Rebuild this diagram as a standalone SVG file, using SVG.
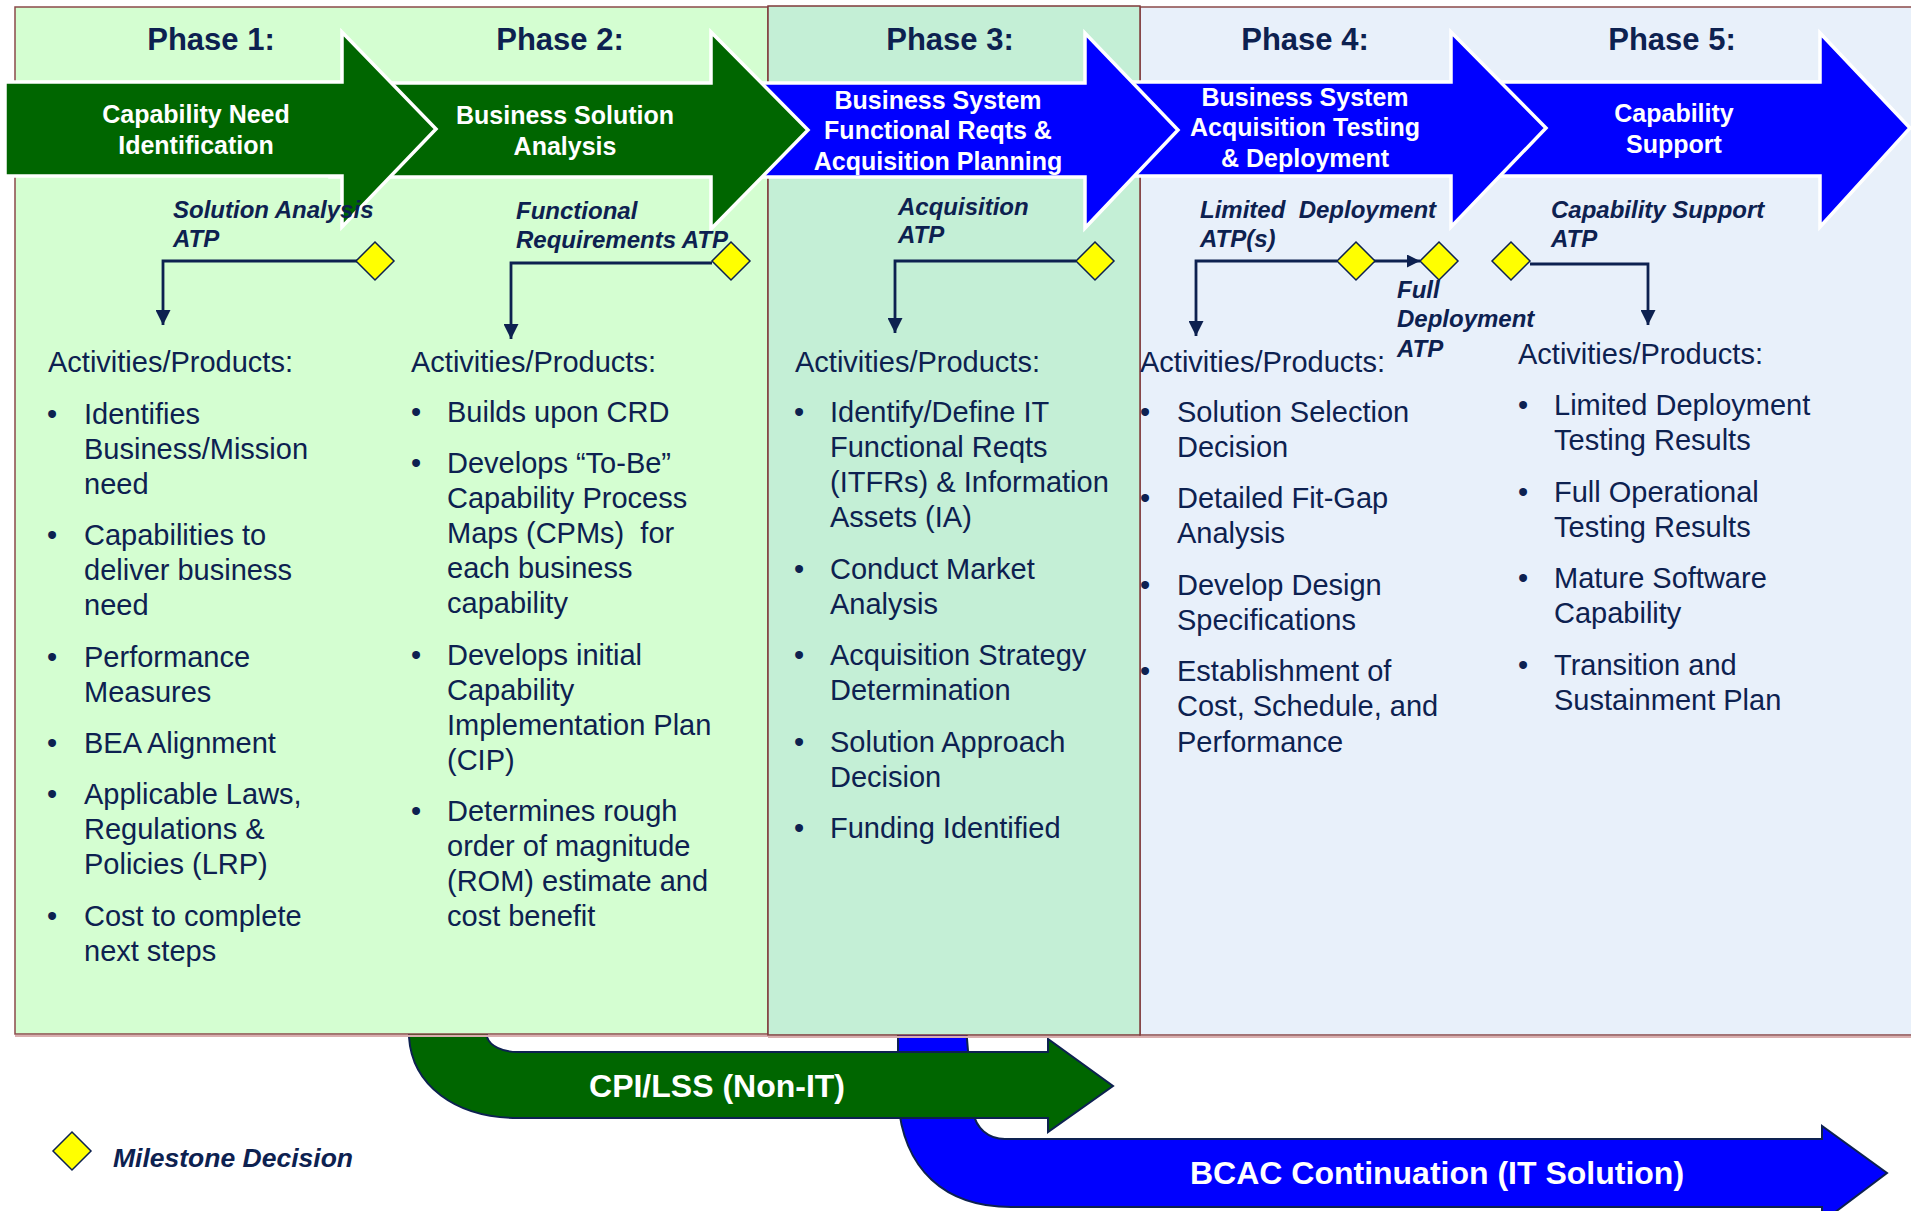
<svg xmlns="http://www.w3.org/2000/svg" width="1911" height="1211" viewBox="0 0 1911 1211">
<defs>
<style>
.ph{font-family:"Liberation Sans",Arial,sans-serif;font-weight:bold;font-size:31px;fill:#0D2150;text-anchor:middle}
.at{font-family:"Liberation Sans",Arial,sans-serif;font-weight:bold;font-size:25px;fill:#fff;text-anchor:middle}
.atp{font-family:"Liberation Sans",Arial,sans-serif;font-weight:bold;font-style:italic;font-size:24px;fill:#0D2150;white-space:pre}
.bd{font-family:"Liberation Sans",Arial,sans-serif;font-size:29px;fill:#0D2150;white-space:pre}
.bt{font-family:"Liberation Sans",Arial,sans-serif;font-weight:bold;font-size:32px;fill:#fff;text-anchor:middle}
.g{fill:#006600;stroke:#fff;stroke-width:3.5}
.b{fill:#0000FF;stroke:#fff;stroke-width:3.5}
.dm{fill:#FFFF00;stroke:#0D2150;stroke-width:1.5}
.cn{fill:none;stroke:#0D2150;stroke-width:2.8}
</style>
<marker id="ah" viewBox="0 0 10 10" refX="10" refY="5" markerUnits="userSpaceOnUse" markerWidth="15" markerHeight="15" orient="auto"><path d="M0,0 L10,5 L0,10 z" fill="#0D2150"/></marker>
<marker id="ahs" viewBox="0 0 10 10" refX="10" refY="5" markerUnits="userSpaceOnUse" markerWidth="13" markerHeight="13" orient="auto"><path d="M0,0 L10,5 L0,10 z" fill="#0D2150"/></marker>
</defs>

<!-- bottom arrows (behind panels) -->
<g id="bcac">
<path d="M898,990 L898,1100 C903,1170 945,1207 1011,1207 L1822,1207 L1822,1222 L1887,1173 L1822,1126 L1822,1139 L1005,1139 C988,1139 976,1128 973,1112 L963,990 Z" fill="#0000FF" stroke="#0D2150" stroke-width="2"/>
<text class="bt" x="1437" y="1184">BCAC Continuation (IT Solution)</text>
</g>
<g id="cpi">
<path d="M409,990 L409,1037 C412,1085 455,1118 518,1118 L1048,1118 L1048,1132 L1113,1086 L1048,1039 L1048,1052 L518,1052 C502,1052 490,1046 487,1037 L487,990 Z" fill="#006600" stroke="#0D2150" stroke-width="2"/>
<text class="bt" x="717" y="1097">CPI/LSS (Non-IT)</text>
</g>

<!-- panels -->
<g id="panels">
<line x1="15" y1="1036" x2="768" y2="1036" stroke="#D9AFAF" stroke-width="2"/>
<line x1="768" y1="1037" x2="1911" y2="1037" stroke="#D9AFAF" stroke-width="2"/>
<rect x="15" y="7" width="753" height="1027" fill="#D4FED1" stroke="#8A4A4A" stroke-width="1.5"/>
<rect x="1140" y="7" width="790" height="1028" fill="#E8F0FA" stroke="#8A4A4A" stroke-width="1.5"/>
<rect x="768" y="6" width="372" height="1029" fill="#C4EFD6" stroke="#7F3A3A" stroke-width="1.5"/>
</g>

<!-- phase titles -->
<g id="phase-titles">
<text class="ph" x="211" y="50">Phase 1:</text>
<text class="ph" x="560" y="50">Phase 2:</text>
<text class="ph" x="950" y="50">Phase 3:</text>
<text class="ph" x="1305" y="50">Phase 4:</text>
<text class="ph" x="1672" y="50">Phase 5:</text>
</g>

<!-- top arrows -->
<g id="phase5-arrow">
<polygon class="b" points="1480,82 1820,82 1820,33 1910,128 1820,227 1820,176 1480,176"/>
<text class="at" x="1674" y="122">Capability</text>
<text class="at" x="1674" y="153">Support</text>
</g>
<g id="phase4-arrow">
<polygon class="b" points="1100,82 1451,82 1451,32 1546,128 1451,227 1451,176 1100,176"/>
<text class="at" x="1305" y="106">Business System</text>
<text class="at" x="1305" y="136">Acquisition Testing</text>
<text class="at" x="1305" y="167">&amp; Deployment</text>
</g>
<g id="phase3-arrow">
<polygon class="b" points="740,83 1085,83 1085,33 1178,130 1085,228 1085,177 740,177"/>
<text class="at" x="938" y="109">Business System</text>
<text class="at" x="938" y="139">Functional Reqts &amp;</text>
<text class="at" x="938" y="170">Acquisition Planning</text>
</g>
<g id="phase2-arrow">
<polygon class="g" points="330,83 711,83 711,32 808,130 711,229 711,177 330,177"/>
<text class="at" x="565" y="124">Business Solution</text>
<text class="at" x="565" y="155">Analysis</text>
</g>
<g id="phase1-arrow">
<polygon class="g" points="5,82 342,82 342,32 436,129 342,227 342,176 5,176"/>
<text class="at" x="196" y="123">Capability Need</text>
<text class="at" x="196" y="154">Identification</text>
</g>

<!-- connectors -->
<g id="connectors">
<path class="cn" d="M357,261 H163 V325" marker-end="url(#ah)"/>
<path class="cn" d="M712,263 H511 V339" marker-end="url(#ah)"/>
<path class="cn" d="M1076,261 H895 V333" marker-end="url(#ah)"/>
<path class="cn" d="M1337,261 H1196 V336" marker-end="url(#ah)"/>
<path class="cn" d="M1374,261 H1420" marker-end="url(#ahs)"/>
<path class="cn" d="M1530,264 H1648 V325" marker-end="url(#ah)"/>
</g>

<!-- milestones -->
<g id="milestone-solution-analysis">
<polygon class="dm" points="375,242 394,261 375,280 356,261"/>
<text class="atp" x="173" y="218">Solution Analysis</text>
<text class="atp" x="173" y="247">ATP</text>
</g>
<g id="milestone-functional-req">
<polygon class="dm" points="731,242 750,261 731,280 712,261"/>
<text class="atp" x="516" y="219">Functional</text>
<text class="atp" x="516" y="248">Requirements ATP</text>
</g>
<g id="milestone-acquisition">
<polygon class="dm" points="1095,242 1114,261 1095,280 1076,261"/>
<text class="atp" x="898" y="215">Acquisition</text>
<text class="atp" x="898" y="243">ATP</text>
</g>
<g id="milestone-limited">
<polygon class="dm" points="1356,242 1375,261 1356,280 1337,261"/>
<text class="atp" x="1200" y="218">Limited  Deployment</text>
<text class="atp" x="1200" y="247">ATP(s)</text>
</g>
<g id="milestone-full">
<polygon class="dm" points="1439,242 1458,261 1439,280 1420,261"/>
<text class="atp" x="1397" y="298">Full</text>
<text class="atp" x="1397" y="327">Deployment</text>
<text class="atp" x="1397" y="357">ATP</text>
</g>
<g id="milestone-capability-support">
<polygon class="dm" points="1511,242 1530,261 1511,280 1492,261"/>
<text class="atp" x="1551" y="218">Capability Support</text>
<text class="atp" x="1551" y="247">ATP</text>
</g>

<!-- activities -->
<g id="activities-1">
<text class="bd" x="48" y="372">Activities/Products:</text>
<text class="bd" x="47" y="424">•</text>
<text class="bd" x="84" y="424">Identifies</text>
<text class="bd" x="84" y="459">Business/Mission</text>
<text class="bd" x="84" y="494">need</text>
<text class="bd" x="47" y="545">•</text>
<text class="bd" x="84" y="545">Capabilities to</text>
<text class="bd" x="84" y="580">deliver business</text>
<text class="bd" x="84" y="615">need</text>
<text class="bd" x="47" y="667">•</text>
<text class="bd" x="84" y="667">Performance</text>
<text class="bd" x="84" y="702">Measures</text>
<text class="bd" x="47" y="753">•</text>
<text class="bd" x="84" y="753">BEA Alignment</text>
<text class="bd" x="47" y="804">•</text>
<text class="bd" x="84" y="804">Applicable Laws,</text>
<text class="bd" x="84" y="839">Regulations &amp;</text>
<text class="bd" x="84" y="874">Policies (LRP)</text>
<text class="bd" x="47" y="926">•</text>
<text class="bd" x="84" y="926">Cost to complete</text>
<text class="bd" x="84" y="961">next steps</text>
</g>
<g id="activities-2">
<text class="bd" x="411" y="372">Activities/Products:</text>
<text class="bd" x="411" y="422">•</text>
<text class="bd" x="447" y="422">Builds upon CRD</text>
<text class="bd" x="411" y="473">•</text>
<text class="bd" x="447" y="473">Develops “To-Be”</text>
<text class="bd" x="447" y="508">Capability Process</text>
<text class="bd" x="447" y="543">Maps (CPMs)  for</text>
<text class="bd" x="447" y="578">each business</text>
<text class="bd" x="447" y="613">capability</text>
<text class="bd" x="411" y="665">•</text>
<text class="bd" x="447" y="665">Develops initial</text>
<text class="bd" x="447" y="700">Capability</text>
<text class="bd" x="447" y="735">Implementation Plan</text>
<text class="bd" x="447" y="770">(CIP)</text>
<text class="bd" x="411" y="821">•</text>
<text class="bd" x="447" y="821">Determines rough</text>
<text class="bd" x="447" y="856">order of magnitude</text>
<text class="bd" x="447" y="891">(ROM) estimate and</text>
<text class="bd" x="447" y="926">cost benefit</text>
</g>
<g id="activities-3">
<text class="bd" x="795" y="372">Activities/Products:</text>
<text class="bd" x="794" y="422">•</text>
<text class="bd" x="830" y="422">Identify/Define IT</text>
<text class="bd" x="830" y="457">Functional Reqts</text>
<text class="bd" x="830" y="492">(ITFRs) &amp; Information</text>
<text class="bd" x="830" y="527">Assets (IA)</text>
<text class="bd" x="794" y="579">•</text>
<text class="bd" x="830" y="579">Conduct Market</text>
<text class="bd" x="830" y="614">Analysis</text>
<text class="bd" x="794" y="665">•</text>
<text class="bd" x="830" y="665">Acquisition Strategy</text>
<text class="bd" x="830" y="700">Determination</text>
<text class="bd" x="794" y="752">•</text>
<text class="bd" x="830" y="752">Solution Approach</text>
<text class="bd" x="830" y="787">Decision</text>
<text class="bd" x="794" y="838">•</text>
<text class="bd" x="830" y="838">Funding Identified</text>
</g>
<g id="activities-4">
<text class="bd" x="1140" y="372">Activities/Products:</text>
<text class="bd" x="1140" y="422">•</text>
<text class="bd" x="1177" y="422">Solution Selection</text>
<text class="bd" x="1177" y="457">Decision</text>
<text class="bd" x="1140" y="508">•</text>
<text class="bd" x="1177" y="508">Detailed Fit-Gap</text>
<text class="bd" x="1177" y="543">Analysis</text>
<text class="bd" x="1140" y="595">•</text>
<text class="bd" x="1177" y="595">Develop Design</text>
<text class="bd" x="1177" y="630">Specifications</text>
<text class="bd" x="1140" y="681">•</text>
<text class="bd" x="1177" y="681">Establishment of</text>
<text class="bd" x="1177" y="716">Cost, Schedule, and</text>
<text class="bd" x="1177" y="752">Performance</text>
</g>
<g id="activities-5">
<text class="bd" x="1518" y="364">Activities/Products:</text>
<text class="bd" x="1518" y="415">•</text>
<text class="bd" x="1554" y="415">Limited Deployment</text>
<text class="bd" x="1554" y="450">Testing Results</text>
<text class="bd" x="1518" y="502">•</text>
<text class="bd" x="1554" y="502">Full Operational</text>
<text class="bd" x="1554" y="537">Testing Results</text>
<text class="bd" x="1518" y="588">•</text>
<text class="bd" x="1554" y="588">Mature Software</text>
<text class="bd" x="1554" y="623">Capability</text>
<text class="bd" x="1518" y="675">•</text>
<text class="bd" x="1554" y="675">Transition and</text>
<text class="bd" x="1554" y="710">Sustainment Plan</text>
</g>

<!-- legend -->
<g id="legend">
<polygon class="dm" points="72,1132 91,1151 72,1170 53,1151"/>
<text class="atp" x="113" y="1167" style="font-size:26.5px">Milestone Decision</text>
</g>
</svg>
